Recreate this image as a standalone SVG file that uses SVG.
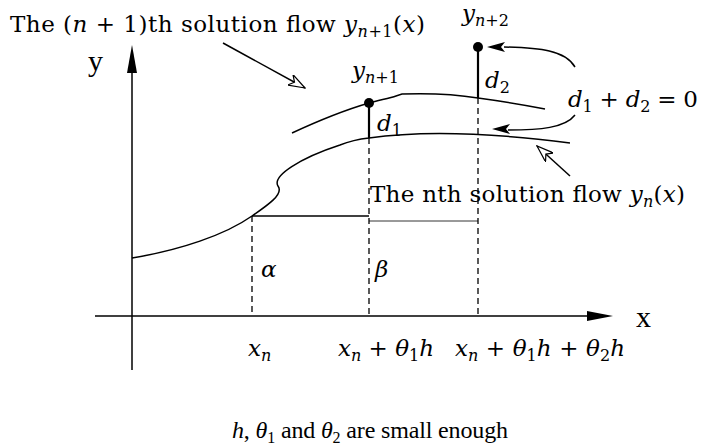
<svg xmlns="http://www.w3.org/2000/svg" width="702" height="447" viewBox="0 0 702 447">
<defs>
<style>
.t{font-family:"DejaVu Serif","Liberation Serif",serif;font-size:23px;fill:#000}
.b{font-family:"Liberation Serif","DejaVu Serif",serif;font-size:24px;fill:#000}
.m{font-style:italic}
.s{font-size:16px}
.ax{font-family:"Liberation Serif","DejaVu Serif",serif;font-size:30px;fill:#000}
.ln{fill:none;stroke:#000;stroke-width:1.5}
.thk{fill:none;stroke:#000;stroke-width:2.2}
.ds{fill:none;stroke:#000;stroke-width:1.3;stroke-dasharray:6,4}
</style>
<marker id="open" viewBox="0 0 18 12" refX="17" refY="6" markerWidth="18" markerHeight="12" markerUnits="userSpaceOnUse" orient="auto">
<path d="M17,6 L0,0 L5,6 L0,12 Z" fill="#fff" stroke="#000" stroke-width="1.2"/>
</marker>
</defs>
<rect width="702" height="447" fill="#fff"/>
<g id="axes">
<line class="ln" x1="132" y1="370" x2="132" y2="70"/>
<polygon points="132,45 127,73 137,73" fill="#000"/>
<line class="ln" x1="95" y1="316" x2="590" y2="316"/>
<polygon points="613,316 587,311 587,321" fill="#000"/>
<text class="ax" x="88" y="71">y</text>
<text class="ax" x="636" y="327">x</text>
</g>
<g id="connectors">
<line class="ds" x1="252" y1="216" x2="252" y2="316"/>
<line class="ds" x1="369" y1="138" x2="369" y2="316"/>
<line class="ds" x1="478" y1="98" x2="478" y2="316"/>
<line class="ln" x1="252" y1="216" x2="369" y2="216"/>
<line stroke="#000" stroke-width="0.8" x1="369" y1="221" x2="478" y2="221"/>
<line class="thk" x1="369" y1="103" x2="369" y2="138"/>
<line class="thk" x1="478" y1="47" x2="478" y2="98"/>
<path class="ln" d="M223,43 L305,88" marker-end="url(#open)"/>
<path class="ln" d="M570,176 L537,146" marker-end="url(#open)"/>
<path class="ln" d="M575,67 C565,50 540,48 504,47"/>
<path d="M487,47 L505,42 L501,47 L505,52 Z" fill="#000"/>
<path class="ln" d="M575,115 C565,128 540,130 508,130"/>
<path d="M492,129 L510,124 L506,129 L510,134 Z" fill="#000"/>
</g>
<g id="lower-curve">
<path class="ln" d="M132,258 C180,250 225,235 252,216 C268,205 284,194 278,186 C272,176 300,158 340,145 C350,141 360,139 369,138 C410,132 470,130 570,143"/>
</g>
<g id="upper-curve">
<path class="ln" d="M292,133 C320,120 345,110 369,103 C380,100 390,98 396,96 L402,94 C430,93 460,95 478,98 C500,101 525,105 545,109"/>
</g>
<g id="points">
<circle cx="369" cy="103" r="5" fill="#000"/>
<circle cx="478" cy="47" r="5" fill="#000"/>
</g>
<g id="labels">
<text class="t" x="10" y="32" textLength="415">The (<tspan class="m">n</tspan> + 1)th solution flow <tspan class="m">y</tspan><tspan class="m s" dy="5">n</tspan><tspan class="s">+1</tspan><tspan dy="-5">(</tspan><tspan class="m">x</tspan>)</text>
<text class="t" x="370" y="202" textLength="315">The nth solution flow <tspan class="m">y</tspan><tspan class="m s" dy="5">n</tspan><tspan dy="-5">(</tspan><tspan class="m">x</tspan>)</text>
<text class="t m" x="352" y="78">y<tspan class="s" dy="5">n</tspan><tspan class="s" style="font-style:normal">+1</tspan></text>
<text class="t m" x="462" y="21">y<tspan class="s" dy="5">n</tspan><tspan class="s" style="font-style:normal">+2</tspan></text>
<text class="t m" x="377" y="131">d<tspan class="s" dy="5" style="font-style:normal">1</tspan></text>
<text class="t m" x="485" y="88">d<tspan class="s" dy="5" style="font-style:normal">2</tspan></text>
<text class="t" x="568" y="107" textLength="130"><tspan class="m">d</tspan><tspan class="s" dy="5">1</tspan><tspan dy="-5"> + </tspan><tspan class="m">d</tspan><tspan class="s" dy="5">2</tspan><tspan dy="-5"> = 0</tspan></text>
<text class="t m" x="261" y="277">α</text>
<text class="t m" x="375" y="277">β</text>
<text class="t" x="248" y="356"><tspan class="m">x</tspan><tspan class="m s" dy="5">n</tspan></text>
<text class="t" x="338" y="356"><tspan class="m">x</tspan><tspan class="m s" dy="5">n</tspan><tspan dy="-5"> + </tspan><tspan class="m">θ</tspan><tspan class="s" dy="5">1</tspan><tspan class="m" dy="-5">h</tspan></text>
<text class="t" x="455" y="356" textLength="170"><tspan class="m">x</tspan><tspan class="m s" dy="5">n</tspan><tspan dy="-5"> + </tspan><tspan class="m">θ</tspan><tspan class="s" dy="5">1</tspan><tspan class="m" dy="-5">h</tspan> + <tspan class="m">θ</tspan><tspan class="s" dy="5">2</tspan><tspan class="m" dy="-5">h</tspan></text>
<text class="b" x="232" y="438" textLength="276"><tspan class="m">h</tspan>, <tspan class="m">θ</tspan><tspan class="s" dy="5">1</tspan><tspan dy="-5"> and </tspan><tspan class="m">θ</tspan><tspan class="s" dy="5">2</tspan><tspan dy="-5"> are small enough</tspan></text>
</g>
</svg>
